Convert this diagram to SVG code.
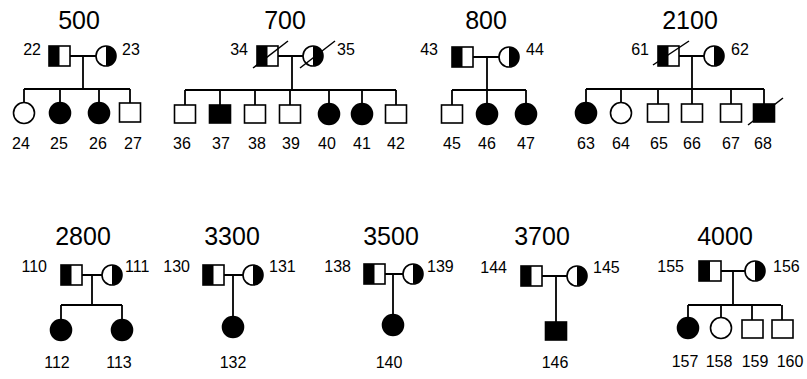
<svg xmlns="http://www.w3.org/2000/svg" width="807" height="379" viewBox="0 0 807 379">
  <style>
    .bg { fill: #fff; }
    .ln { stroke: #000; stroke-width: 1.8; fill: none; }
    .open { fill: #fff; stroke: #000; stroke-width: 1.6; }
    .aff { fill: #000; stroke: #000; stroke-width: 1.6; }
    .half { fill: #000; stroke: none; }
    .dec { stroke: #000; stroke-width: 1.5; fill: none; }
    .title { font-family: "Liberation Sans", Arial, sans-serif; font-size: 25px; fill: #000; text-anchor: middle; }
    .id { font-family: "Liberation Sans", Arial, sans-serif; font-size: 16px; fill: #000; }
    .c { text-anchor: middle; }
    .e { text-anchor: end; }
  </style>
  <rect class="bg" x="0" y="0" width="807" height="379"/>

  <!-- family titles -->
  <g id="titles">
    <text class="title" x="79" y="29">500</text>
    <text class="title" x="285" y="29">700</text>
    <text class="title" x="486" y="29">800</text>
    <text class="title" x="690" y="29">2100</text>
    <text class="title" x="83" y="245">2800</text>
    <text class="title" x="232" y="245">3300</text>
    <text class="title" x="391" y="245">3500</text>
    <text class="title" x="542" y="245">3700</text>
    <text class="title" x="725" y="245">4000</text>
  </g>

  <!-- mating, descent, sibship and child lines -->
  <g id="connectors">
    <!-- 500 -->
    <path class="ln" d="M70 56H96 M83 56V89 M24 89H130 M24 89V103 M60 89V103 M99 89V103 M130 89V103"/>
    <!-- 700 -->
    <path class="ln" d="M278 56H303 M292 56V90 M185 90H396 M185 90V105 M220 90V105 M255 90V105 M290 90V105 M329 90V104 M362 90V104 M396 90V105"/>
    <!-- 800 -->
    <path class="ln" d="M473 57H499 M487 57V90 M452 90H526 M452 90V105 M487 90V104 M526 90V104"/>
    <!-- 2100 -->
    <path class="ln" d="M679 56H704 M692 56V89 M586 89H764 M586 89V103 M621 89V103 M658 89V104 M692 89V104 M731 89V104 M764 89V104"/>
    <!-- 2800 -->
    <path class="ln" d="M82 275H102 M92 275V305 M61 305H122 M61 305V320 M122 305V320"/>
    <!-- 3300 -->
    <path class="ln" d="M224 275H243 M233 275V317"/>
    <!-- 3500 -->
    <path class="ln" d="M385 274H403 M393 274V315"/>
    <!-- 3700 -->
    <path class="ln" d="M542 276H567 M556 276V322"/>
    <!-- 4000 -->
    <path class="ln" d="M721 271H745 M733 271V305 M688 305H781 M688 305V318 M721 305V318 M752 305V320 M782 305V320"/>
  </g>

  <!-- ===== family 500 ===== -->
  <g id="n22">
    <rect class="open" x="49" y="46" width="21" height="20"/>
    <rect class="half" x="49" y="46" width="10.5" height="20"/>
    <text class="id e" x="41" y="55">22</text>
  </g>
  <g id="n23">
    <circle class="open" cx="106" cy="56" r="10"/>
    <path class="half" d="M106 46A10 10 0 0 1 106 66Z"/>
    <text class="id" x="122" y="55">23</text>
  </g>
  <g id="n24"><circle class="open" cx="24" cy="113" r="10.5"/><text class="id c" x="21" y="149">24</text></g>
  <g id="n25"><circle class="aff" cx="60" cy="113" r="10.5"/><text class="id c" x="59" y="149">25</text></g>
  <g id="n26"><circle class="aff" cx="99" cy="113" r="10.5"/><text class="id c" x="98" y="149">26</text></g>
  <g id="n27"><rect class="open" x="119.5" y="103" width="21" height="19"/><text class="id c" x="133" y="149">27</text></g>

  <!-- ===== family 700 ===== -->
  <g id="n34">
    <rect class="open" x="257" y="46" width="21" height="20"/>
    <rect class="half" x="257" y="46" width="10.5" height="20"/>
    <line class="dec" x1="253" y1="68" x2="288" y2="41"/>
    <text class="id e" x="248" y="55">34</text>
  </g>
  <g id="n35">
    <circle class="open" cx="313" cy="56" r="10"/>
    <path class="half" d="M313 46A10 10 0 0 1 313 66Z"/>
    <line class="dec" x1="300" y1="68" x2="335" y2="41"/>
    <text class="id" x="337" y="55">35</text>
  </g>
  <g id="n36"><rect class="open" x="174.5" y="105" width="21" height="18"/><text class="id c" x="182" y="149">36</text></g>
  <g id="n37"><rect class="aff" x="209.5" y="105" width="21" height="18"/><text class="id c" x="221" y="149">37</text></g>
  <g id="n38"><rect class="open" x="244.5" y="105" width="21" height="18"/><text class="id c" x="257" y="149">38</text></g>
  <g id="n39"><rect class="open" x="279.5" y="105" width="21" height="18"/><text class="id c" x="291" y="149">39</text></g>
  <g id="n40"><circle class="aff" cx="329" cy="114" r="10.5"/><text class="id c" x="327" y="149">40</text></g>
  <g id="n41"><circle class="aff" cx="362" cy="114" r="10.5"/><text class="id c" x="362" y="149">41</text></g>
  <g id="n42"><rect class="open" x="385.5" y="105" width="21" height="18"/><text class="id c" x="396" y="149">42</text></g>

  <!-- ===== family 800 ===== -->
  <g id="n43">
    <rect class="open" x="452" y="47" width="21" height="20"/>
    <rect class="half" x="452" y="47" width="10.5" height="20"/>
    <text class="id e" x="438" y="55">43</text>
  </g>
  <g id="n44">
    <circle class="open" cx="509" cy="57" r="10"/>
    <path class="half" d="M509 47A10 10 0 0 1 509 67Z"/>
    <text class="id" x="526" y="55">44</text>
  </g>
  <g id="n45"><rect class="open" x="441.5" y="105" width="21" height="18"/><text class="id c" x="452" y="149">45</text></g>
  <g id="n46"><circle class="aff" cx="487" cy="114" r="10.5"/><text class="id c" x="487" y="149">46</text></g>
  <g id="n47"><circle class="aff" cx="526" cy="114" r="10.5"/><text class="id c" x="526" y="149">47</text></g>

  <!-- ===== family 2100 ===== -->
  <g id="n61">
    <rect class="open" x="658" y="46" width="21" height="20"/>
    <rect class="half" x="658" y="46" width="10.5" height="20"/>
    <line class="dec" x1="653" y1="65" x2="689" y2="41"/>
    <text class="id e" x="649" y="55">61</text>
  </g>
  <g id="n62">
    <circle class="open" cx="714" cy="56" r="10"/>
    <path class="half" d="M714 46A10 10 0 0 1 714 66Z"/>
    <text class="id" x="731" y="55">62</text>
  </g>
  <g id="n63"><circle class="aff" cx="586" cy="113" r="10.5"/><text class="id c" x="586" y="149">63</text></g>
  <g id="n64"><circle class="open" cx="621" cy="113" r="10.5"/><text class="id c" x="621" y="149">64</text></g>
  <g id="n65"><rect class="open" x="647.5" y="104" width="21" height="18"/><text class="id c" x="659" y="149">65</text></g>
  <g id="n66"><rect class="open" x="681.5" y="104" width="21" height="18"/><text class="id c" x="692" y="149">66</text></g>
  <g id="n67"><rect class="open" x="720.5" y="104" width="21" height="18"/><text class="id c" x="731" y="149">67</text></g>
  <g id="n68">
    <rect class="aff" x="753.5" y="104" width="21" height="18"/>
    <line class="dec" x1="748" y1="125" x2="783" y2="98"/>
    <text class="id c" x="763" y="149">68</text>
  </g>

  <!-- ===== family 2800 ===== -->
  <g id="n110">
    <rect class="open" x="61" y="265" width="21" height="20"/>
    <rect class="half" x="61" y="265" width="10.5" height="20"/>
    <text class="id e" x="47" y="272">110</text>
  </g>
  <g id="n111">
    <circle class="open" cx="112" cy="275" r="10"/>
    <path class="half" d="M112 265A10 10 0 0 1 112 285Z"/>
    <text class="id" x="125" y="272">111</text>
  </g>
  <g id="n112"><circle class="aff" cx="61" cy="330" r="10.5"/><text class="id c" x="57" y="368">112</text></g>
  <g id="n113"><circle class="aff" cx="122" cy="330" r="10.5"/><text class="id c" x="119" y="368">113</text></g>

  <!-- ===== family 3300 ===== -->
  <g id="n130">
    <rect class="open" x="203" y="265" width="21" height="20"/>
    <rect class="half" x="203" y="265" width="10.5" height="20"/>
    <text class="id e" x="190" y="272">130</text>
  </g>
  <g id="n131">
    <circle class="open" cx="253" cy="275" r="10"/>
    <path class="half" d="M253 265A10 10 0 0 1 253 285Z"/>
    <text class="id" x="269" y="272">131</text>
  </g>
  <g id="n132"><circle class="aff" cx="233" cy="327" r="10.5"/><text class="id c" x="233" y="368">132</text></g>

  <!-- ===== family 3500 ===== -->
  <g id="n138">
    <rect class="open" x="364" y="264" width="21" height="20"/>
    <rect class="half" x="364" y="264" width="10.5" height="20"/>
    <text class="id e" x="351" y="272">138</text>
  </g>
  <g id="n139">
    <circle class="open" cx="413" cy="274" r="10"/>
    <path class="half" d="M413 264A10 10 0 0 1 413 284Z"/>
    <text class="id" x="427" y="272">139</text>
  </g>
  <g id="n140"><circle class="aff" cx="393" cy="325" r="10.5"/><text class="id c" x="389" y="368">140</text></g>

  <!-- ===== family 3700 ===== -->
  <g id="n144">
    <rect class="open" x="521" y="266" width="21" height="20"/>
    <rect class="half" x="521" y="266" width="10.5" height="20"/>
    <text class="id e" x="507" y="273">144</text>
  </g>
  <g id="n145">
    <circle class="open" cx="577" cy="276" r="10"/>
    <path class="half" d="M577 266A10 10 0 0 1 577 286Z"/>
    <text class="id" x="593" y="273">145</text>
  </g>
  <g id="n146"><rect class="aff" x="545.5" y="322" width="21" height="18"/><text class="id c" x="555" y="368">146</text></g>

  <!-- ===== family 4000 ===== -->
  <g id="n155">
    <rect class="open" x="699" y="261" width="22" height="20"/>
    <rect class="half" x="699" y="261" width="11" height="20"/>
    <text class="id e" x="684" y="272">155</text>
  </g>
  <g id="n156">
    <circle class="open" cx="755" cy="271" r="10"/>
    <path class="half" d="M755 261A10 10 0 0 1 755 281Z"/>
    <text class="id" x="773" y="272">156</text>
  </g>
  <g id="n157"><circle class="aff" cx="688" cy="328" r="10.5"/><text class="id c" x="685" y="367">157</text></g>
  <g id="n158"><circle class="open" cx="721" cy="328" r="10.5"/><text class="id c" x="719" y="367">158</text></g>
  <g id="n159"><rect class="open" x="742" y="320" width="21" height="18"/><text class="id c" x="755" y="367">159</text></g>
  <g id="n160"><rect class="open" x="772" y="320" width="21" height="18"/><text class="id c" x="790" y="367">160</text></g>
</svg>
